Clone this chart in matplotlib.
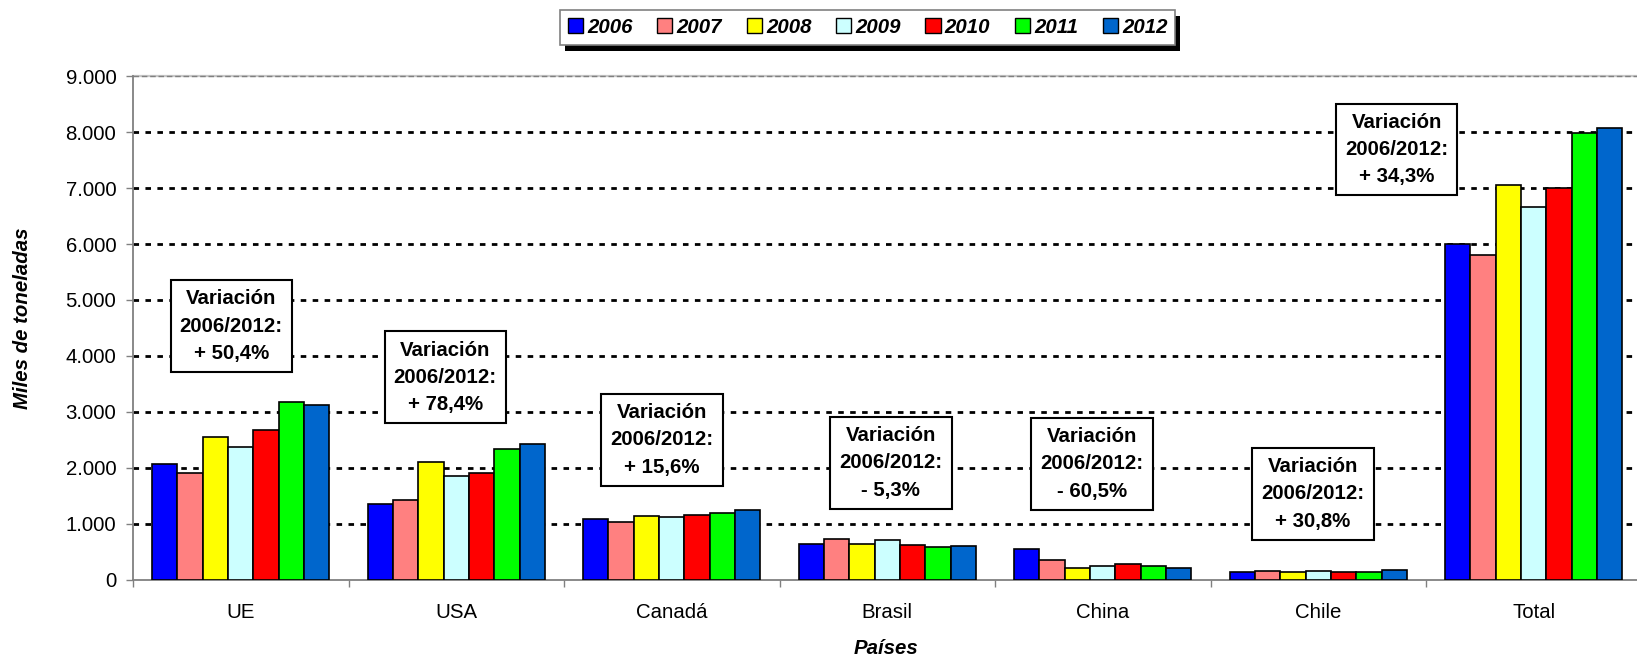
import matplotlib
matplotlib.use("Agg")
import matplotlib.pyplot as plt
from matplotlib.patches import Rectangle
from matplotlib.transforms import IdentityTransform
from matplotlib.ticker import FuncFormatter, FixedLocator
import numpy as np

plt.rcParams['font.family'] = ['Liberation Sans', 'DejaVu Sans']

# ---------------- data ----------------
paises = ['UE', 'USA', 'Canadá', 'Brasil', 'China', 'Chile', 'Total']
anios = ['2006', '2007', '2008', '2009', '2010', '2011', '2012']
v2006 = [2068, 1358, 1078, 643, 547, 136, 6003]
v2007 = [1907, 1424, 1036, 726, 351, 154, 5798]
v2008 = [2557, 2109, 1132, 631, 213, 142, 7057]
v2009 = [2378, 1853, 1120, 703, 243, 154, 6654]
v2010 = [2676, 1907, 1162, 625, 285, 136, 7002]
v2011 = [3172, 2342, 1197, 583, 243, 142, 7981]
v2012 = [3118, 2420, 1245, 607, 208, 178, 8081]
series = [v2006, v2007, v2008, v2009, v2010, v2011, v2012]
variaciones = ['+ 50,4%', '+ 78,4%', '+ 15,6%', '- 5,3%', '- 60,5%', '+ 30,8%', '+ 34,3%']
yticks = [0, 1000, 2000, 3000, 4000, 5000, 6000, 7000, 8000, 9000]

# ---------------- style ----------------
colores = ['#0000FF', '#FF8080', '#FFFF00', '#CCFFFF', '#FF0000', '#00FF00', '#0066CC']
box_pos = [(-0.044, 4531), (0.949, 3615), (1.955, 2497), (3.017, 2086),
           (3.95, 2068), (4.976, 1531), (5.364, 7689)]
FS = 14.7

W, H = 1637, 659
fig = plt.figure(figsize=(W / 100, H / 100), dpi=100)
ax = fig.add_axes([133 / W, 1 - 579.6 / H, 7 * 215.5 / W, (579.6 - 76.2) / H])

n = len(paises)
x = np.arange(n)
bw = 0.1175
for j, (vals, col) in enumerate(zip(series, colores)):
    ax.bar(x + (j - 3) * bw, vals, width=bw, color=col, edgecolor='black',
           linewidth=1.2, zorder=3, label=anios[j])

ax.set_xlim(-0.5, n - 0.5)
ax.set_ylim(0, 9000)

# grid lines
for yv in yticks[1:-1]:
    ax.axhline(yv, color='black', linewidth=2, linestyle=(0, (2.0, 2.3)), zorder=1)
ax.axhline(9000, color='#c8c8c8', linewidth=1.6, zorder=1, clip_on=False)
ax.axhline(9000, color='#808080', linewidth=1.0, linestyle=(0, (4, 2)), zorder=1, clip_on=False)

for s in ['top', 'right']:
    ax.spines[s].set_visible(False)
for s in ['left', 'bottom']:
    ax.spines[s].set_color('#808080')
    ax.spines[s].set_linewidth(1.3)

ax.set_yticks(yticks)
ax.yaxis.set_major_formatter(FuncFormatter(lambda v, p: f"{int(v):,}".replace(',', '.')))
ax.tick_params(axis='y', direction='out', length=5, width=1, color='#808080',
               labelsize=FS, pad=7)
ax.set_xticks(x)
ax.set_xticklabels(paises)
ax.xaxis.set_minor_locator(FixedLocator(np.arange(-0.5, n, 1.0)))
ax.tick_params(axis='x', which='major', length=0, labelsize=FS, pad=16.5)
ax.tick_params(axis='x', which='minor', direction='out', length=5, width=1, color='#808080')

# annotation boxes
for (bx, by), var in zip(box_pos, variaciones):
    ax.text(bx, by, f"Variación\n2006/2012:\n{var}", ha='center', va='center',
            multialignment='center', fontsize=FS, fontweight='bold', linespacing=1.55,
            zorder=6,
            bbox=dict(boxstyle='square,pad=0.45', facecolor='white', edgecolor='black',
                      linewidth=1.5))

# axis labels
fig.text(22.5 / W, 1 - 318 / H, 'Miles de toneladas', rotation=90, ha='center', va='center',
         fontsize=FS, fontweight='bold', fontstyle='italic')
fig.text(886 / W, 1 - 648 / H, 'Países', ha='center', va='center',
         fontsize=FS, fontweight='bold', fontstyle='italic')

# legend
handles = [Rectangle((0, 0), 1, 1, facecolor=c, edgecolor='black', linewidth=1.0) for c in colores]
leg = fig.legend(handles, anios, loc='upper center', bbox_to_anchor=(867.6 / W, 1 - 10 / H),
                 ncol=7, prop=dict(size=FS, weight='bold', style='italic'),
                 frameon=True, fancybox=False, edgecolor='#808080', facecolor='white',
                 framealpha=1, borderpad=0.38, handlelength=0.75, handleheight=0.75,
                 handletextpad=0.2, columnspacing=1.2, borderaxespad=0)
leg.get_frame().set_linewidth(1.2)
leg.set_zorder(10)

fig.canvas.draw()
bb = leg.get_window_extent(fig.canvas.get_renderer())
shadow = Rectangle((bb.x0 + 5, bb.y0 - 6), bb.width, bb.height, facecolor='black',
                   edgecolor='none', transform=IdentityTransform(), zorder=9)
fig.add_artist(shadow)

fig.savefig('out.png', dpi=100)
